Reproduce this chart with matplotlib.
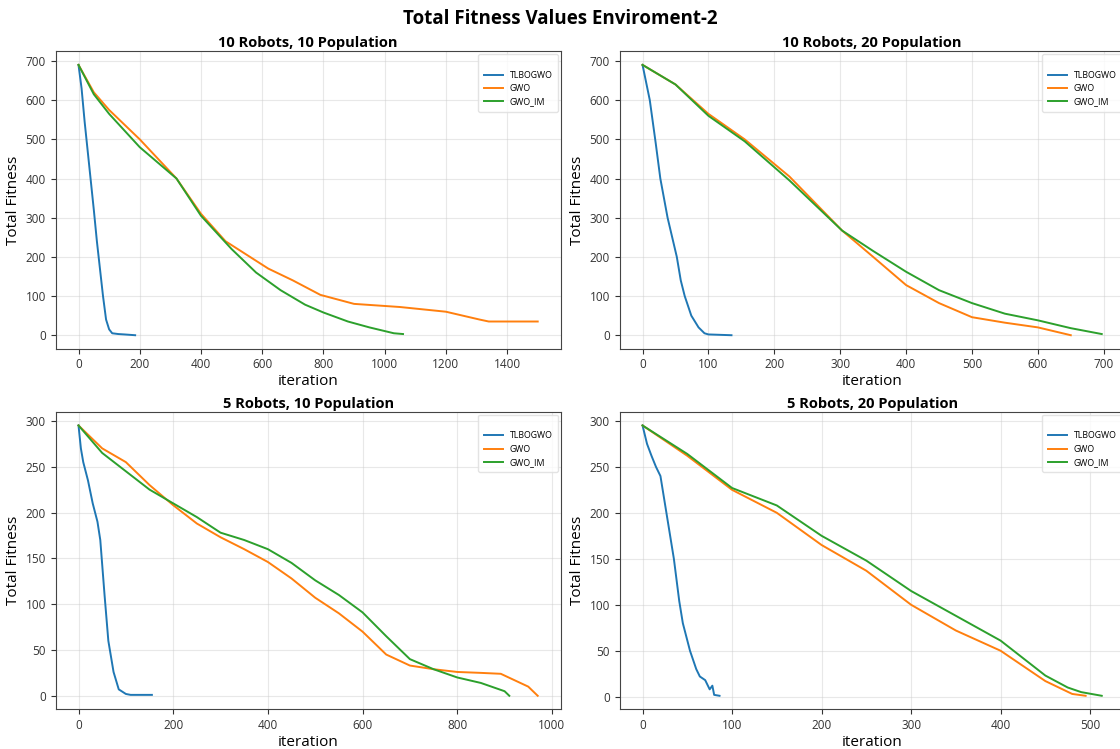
import matplotlib.pyplot as plt

plt.rcParams['font.family'] = ['Open Sans', 'DejaVu Sans']

# ---- data (iteration, total fitness) ----
# 10 robots, 10 population
p1_tlbo_x = [0, 10, 20, 30, 40, 50, 60, 70, 80, 90, 100, 110, 130, 150, 185]
p1_tlbo_y = [690, 630, 545, 470, 395, 320, 240, 170, 100, 40, 15, 5, 3, 2, 0]
p1_gwo_x = [0, 50, 100, 200, 320, 400, 480, 560, 620, 700, 790, 900, 1050, 1200, 1310, 1340, 1500]
p1_gwo_y = [690, 620, 575, 500, 400, 310, 240, 200, 170, 140, 103, 80, 72, 60, 40, 35, 35]
p1_im_x = [0, 50, 100, 200, 320, 400, 500, 580, 660, 740, 800, 880, 950, 1030, 1060]
p1_im_y = [690, 615, 565, 480, 400, 305, 220, 160, 115, 78, 58, 35, 20, 5, 3]

# 10 robots, 20 population
p2_tlbo_x = [0, 11, 20, 27, 38, 45, 52, 58, 64, 74, 85, 94, 100, 135]
p2_tlbo_y = [690, 600, 490, 400, 300, 250, 200, 140, 100, 50, 20, 5, 2, 0]
p2_gwo_x = [0, 50, 100, 155, 223, 303, 350, 400, 450, 500, 550, 600, 650]
p2_gwo_y = [690, 640, 565, 500, 405, 267, 200, 128, 82, 46, 32, 20, 0]
p2_im_x = [0, 50, 100, 155, 223, 303, 350, 400, 450, 500, 550, 600, 650, 697]
p2_im_y = [690, 640, 560, 495, 395, 267, 215, 162, 115, 82, 55, 38, 18, 3]

# 5 robots, 10 population
p3_tlbo_x = [0, 5, 10, 20, 30, 40, 46, 55, 63, 74, 85, 100, 110, 130, 155]
p3_tlbo_y = [295, 270, 255, 235, 210, 190, 170, 110, 60, 26, 7, 2, 1, 1, 1]
p3_gwo_x = [0, 50, 100, 150, 200, 250, 300, 350, 400, 450, 500, 550, 600, 650, 700, 750, 800, 850, 892, 950, 970]
p3_gwo_y = [295, 270, 255, 230, 208, 188, 173, 160, 146, 128, 107, 90, 70, 45, 33, 29, 26, 25, 24, 10, 0]
p3_im_x = [0, 50, 100, 150, 200, 250, 300, 350, 400, 450, 500, 550, 600, 650, 700, 750, 800, 850, 900, 910]
p3_im_y = [295, 265, 245, 225, 210, 195, 178, 170, 160, 145, 126, 110, 91, 65, 40, 29, 20, 14, 5, 0]

# 5 robots, 20 population
p4_tlbo_x = [0, 5, 10, 15, 20, 25, 30, 35, 41, 45, 53, 60, 64, 70, 75, 78, 80, 86]
p4_tlbo_y = [295, 275, 262, 250, 240, 210, 180, 150, 104, 80, 50, 30, 22, 18, 8, 12, 2, 1]
p4_gwo_x = [0, 50, 100, 150, 200, 250, 300, 350, 400, 450, 480, 495]
p4_gwo_y = [295, 262, 225, 200, 165, 137, 100, 72, 50, 17, 3, 1]
p4_im_x = [0, 50, 100, 150, 200, 250, 300, 350, 400, 450, 475, 490, 513]
p4_im_y = [295, 264, 227, 208, 175, 148, 115, 88, 61, 23, 10, 5, 1]

titles = ['10 Robots, 10 Population', '10 Robots, 20 Population',
          '5 Robots, 10 Population', '5 Robots, 20 Population']
labels = ['TLBOGWO', 'GWO', 'GWO_IM']
series = [
    [(p1_tlbo_x, p1_tlbo_y), (p1_gwo_x, p1_gwo_y), (p1_im_x, p1_im_y)],
    [(p2_tlbo_x, p2_tlbo_y), (p2_gwo_x, p2_gwo_y), (p2_im_x, p2_im_y)],
    [(p3_tlbo_x, p3_tlbo_y), (p3_gwo_x, p3_gwo_y), (p3_im_x, p3_im_y)],
    [(p4_tlbo_x, p4_tlbo_y), (p4_gwo_x, p4_gwo_y), (p4_im_x, p4_im_y)],
]
colors = ['#1f77b4', '#ff7f0e', '#2ca02c']

fig = plt.figure(figsize=(11.2, 7.49), dpi=100)

# axes boxes in figure fraction (right column runs slightly past the edge, as in the source)
boxes = [
    [0.0496, 0.5344, 0.451, 0.397],
    [0.5532, 0.5344, 0.451, 0.397],
    [0.0496, 0.0530, 0.451, 0.397],
    [0.5532, 0.0530, 0.451, 0.397],
]

for box, title, lines in zip(boxes, titles, series):
    ax = fig.add_axes(box)
    for (x, y), lab, c in zip(lines, labels, colors):
        ax.plot(x, y, color=c, linewidth=1.4, label=lab)
    ax.set_title(title, fontsize=10.5, fontweight='bold', pad=3)
    ax.set_xlabel('iteration', fontsize=11, labelpad=2)
    ax.set_ylabel('Total Fitness', fontsize=11, labelpad=3)
    ax.tick_params(labelsize=8.5, colors='#333333')
    ax.grid(True, color='#cccccc', alpha=0.45, linewidth=0.8)
    for s in ax.spines.values():
        s.set_color('#444444')
    leg = ax.legend(loc='upper right', fontsize=6.3, title=' ', title_fontsize=5.5,
                    frameon=True, borderpad=0.6, handlelength=2.2,
                    borderaxespad=0.3)
    leg.get_frame().set_edgecolor('#dddddd')

fig.suptitle('Total Fitness Values Enviroment-2', fontsize=13.5, fontweight='bold', y=0.988)

fig.savefig('out.png', dpi=100, facecolor='white')
